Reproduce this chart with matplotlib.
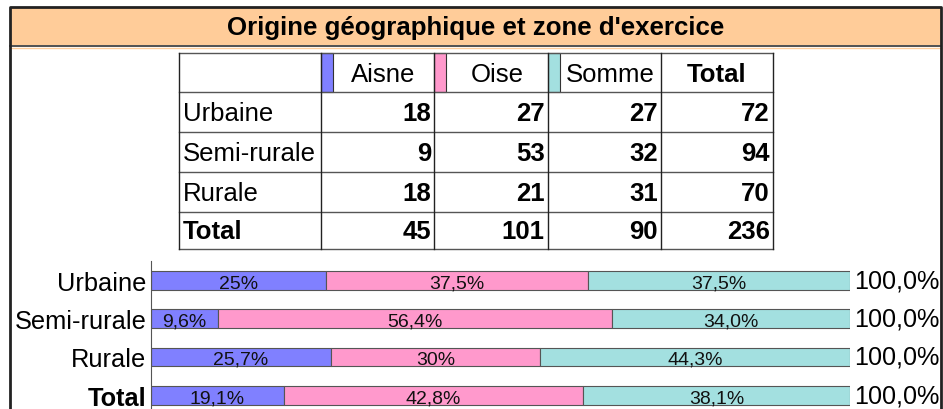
import matplotlib
matplotlib.use('Agg')
from matplotlib import pyplot as plt
from matplotlib.patches import Rectangle

plt.rcParams['font.family'] = ['Liberation Sans', 'DejaVu Sans']

titre = "Origine géographique et zone d'exercice"
zones = ['Urbaine', 'Semi-rurale', 'Rurale']
departements = ['Aisne', 'Oise', 'Somme']
aisne = [18, 9, 18]
oise = [27, 53, 21]
somme = [27, 32, 31]

# libellés tels qu'affichés dans les barres
etiquettes_aisne = ['25%', '9,6%', '25,7%', '19,1%']
etiquettes_oise = ['37,5%', '56,4%', '30%', '42,8%']
etiquettes_somme = ['37,5%', '34,0%', '44,3%', '38,1%']
etiquettes_total = ['100,0%', '100,0%', '100,0%', '100,0%']

couleurs = ['#8080FF', '#FF99CC', '#A3E0E0']
W, H = 943, 410


def totaux():
    par_zone = [a + o + s for a, o, s in zip(aisne, oise, somme)]
    par_dep = [sum(aisne), sum(oise), sum(somme)]
    return par_zone, par_dep, sum(par_zone)


def dessiner_cadre(fond):
    fond.add_patch(Rectangle((10, 8), 931, 38, facecolor='#FFCC99', edgecolor='none'))
    fond.plot([10, 941], [46.5, 46.5], color='#333333', lw=1.2)
    fond.plot([10, 941], [48.5, 48.5], color='#FFCC99', lw=1)
    fond.plot([10, 10, 941, 941], [H, 8, 8, H], color='#222222', lw=2)
    fond.text(476, 28, titre, ha='center', va='center', fontsize=18.6, fontweight='bold')


def dessiner_tableau(fond):
    par_zone, par_dep, total = totaux()
    cols = [179, 320.5, 434, 547.5, 661, 773]
    rows = [54, 93, 133, 173, 212.5, 249.5]
    strip = 12

    lignes = [[str(a), str(o), str(s), str(t)] for a, o, s, t in zip(aisne, oise, somme, par_zone)]
    lignes.append([str(v) for v in par_dep] + [str(total)])
    noms = zones + ['Total']

    # bandes de couleur dans l'en-tête
    for j, c in enumerate(couleurs):
        fond.add_patch(Rectangle((cols[j + 1], rows[0]), strip, rows[1] - rows[0],
                                 facecolor=c, edgecolor='#333333', lw=0.8))
    for y in rows:
        fond.plot([cols[0], cols[-1]], [y, y], color='#555555', lw=1)
    for x in cols:
        fond.plot([x, x], [rows[0], rows[-1]], color='#222222', lw=1)

    fs = 18.5
    for j, d in enumerate(departements):
        xc = (cols[j + 1] + strip + cols[j + 2]) / 2
        fond.text(xc, (rows[0] + rows[1]) / 2 + 1, d, ha='center', va='center', fontsize=fs)
    fond.text((cols[4] + cols[5]) / 2, (rows[0] + rows[1]) / 2 + 1, 'Total', ha='center', va='center',
              fontsize=fs, fontweight='bold')

    for i, (nom, valeurs) in enumerate(zip(noms, lignes)):
        yc = (rows[i + 1] + rows[i + 2]) / 2 + 1
        fond.text(cols[0] + 4, yc, nom, ha='left', va='center', fontsize=fs,
                  fontweight='bold' if nom == 'Total' else 'normal')
        for j, v in enumerate(valeurs):
            fond.text(cols[j + 2] - 3, yc, v, ha='right', va='center', fontsize=fs, fontweight='bold')


def dessiner_barres(fig):
    par_zone, par_dep, total = totaux()
    comptes = [aisne + [par_dep[0]], oise + [par_dep[1]], somme + [par_dep[2]]]
    denom = par_zone + [total]
    parts = [[100 * c / d for c, d in zip(serie, denom)] for serie in comptes]
    etiquettes = [etiquettes_aisne, etiquettes_oise, etiquettes_somme]
    noms = zones + ['Total']
    y = list(range(len(noms)))

    ax = fig.add_axes([150.7 / W, 0, (850 - 150.7) / W, 148 / H])
    gauche = [0] * len(noms)
    for serie, couleur, labs in zip(parts, couleurs, etiquettes):
        ax.barh(y, serie, left=gauche, height=0.49, color=couleur,
                edgecolor='#555555', linewidth=0.8)
        for yi, g, s, lab in zip(y, gauche, serie, labs):
            ax.annotate(lab, (g + s / 2, yi), xytext=(0, -1.8), textcoords='offset points',
                        ha='center', va='center', fontsize=14, color='#111111')
        gauche = [g + s for g, s in zip(gauche, serie)]
    for yi, lab, g in zip(y, etiquettes_total, gauche):
        ax.annotate(lab, (g, yi), xytext=(3.2, 0), textcoords='offset points',
                    ha='left', va='center', fontsize=18.1)

    ax.set_xlim(0, 100)
    ax.set_ylim(3.36, -0.51)
    ax.set_yticks(y, noms)
    ax.get_yticklabels()[-1].set_fontweight('bold')
    ax.tick_params(axis='y', length=0, pad=3, labelsize=18.3)
    ax.set_xticks([])
    for cote in ['top', 'right', 'bottom']:
        ax.spines[cote].set_visible(False)
    ax.spines['left'].set_color('#555555')
    ax.patch.set_alpha(0)


def main():
    fig = plt.figure(figsize=(W / 100, H / 100), dpi=100)
    fond = fig.add_axes([0, 0, 1, 1])
    fond.set_xlim(0, W)
    fond.set_ylim(H, 0)
    fond.axis('off')
    dessiner_cadre(fond)
    dessiner_tableau(fond)
    dessiner_barres(fig)
    fig.savefig('out.png', dpi=100)


if __name__ == '__main__':
    main()
